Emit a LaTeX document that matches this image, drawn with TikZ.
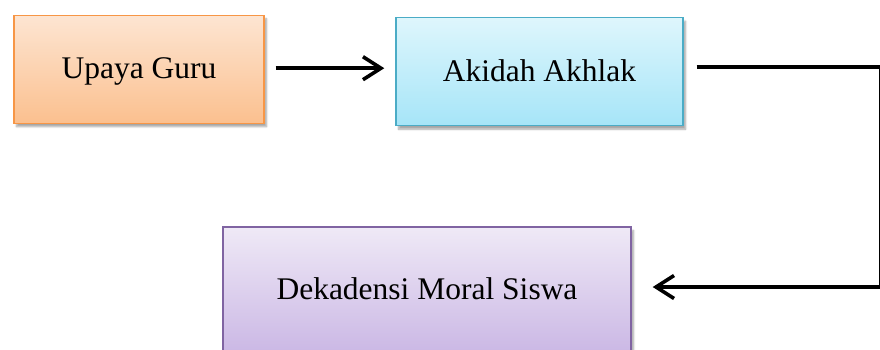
\documentclass[tikz,border=0pt]{standalone}
\usepackage{fontspec}
\setmainfont{Liberation Serif}
\usetikzlibrary{arrows.meta,shadows.blur}

\definecolor{orangeTop}{HTML}{FDE5D2}
\definecolor{orangeBot}{HTML}{FBC08F}
\definecolor{orangeLine}{HTML}{F79646}
\definecolor{cyanTop}{HTML}{DEF6FC}
\definecolor{cyanBot}{HTML}{A6E5F8}
\definecolor{cyanLine}{HTML}{4BACC6}
\definecolor{purpleTop}{HTML}{EFE9F6}
\definecolor{purpleBot}{HTML}{CBB8E5}
\definecolor{purpleLine}{HTML}{8064A2}

\tikzset{
  box/.style={rectangle, line width=1.4pt, inner sep=0pt,
    shading=axis, shading angle=0,
    font=\fontsize{31.5}{36}\selectfont,
    text height=19pt, text depth=0pt,
    blur shadow={shadow xshift=2.5pt, shadow yshift=-3.5pt,
      shadow blur steps=6, shadow opacity=35}},
  orangebox/.style={box, draw=orangeLine, top color=orangeTop, bottom color=orangeBot},
  cyanbox/.style={box, draw=cyanLine, top color=cyanTop, bottom color=cyanBot},
  purplebox/.style={box, draw=purpleLine, top color=purpleTop, bottom color=purpleBot},
  conn/.style={line width=3.6pt, black,
    -{Straight Barb[length=18pt, width=23pt, line width=3.6pt]}}
}

\begin{document}
\begin{tikzpicture}[x=1pt, y=-1pt]
  \useasboundingbox (0,0) rectangle (880,349);
  \clip (0,0) rectangle (880,349);

  % process boxes
  \node[orangebox, minimum width=250pt, minimum height=108pt] (up) at (139,69.2) {Upaya Guru};
  \node[cyanbox, minimum width=287pt, minimum height=108pt] (ak) at (539.5,71.7) {Akidah Akhlak};
  \node[purplebox, minimum width=408pt, minimum height=125pt] (dek) at (427,289.5) {Dekadensi Moral Siswa};

  % corner points of the return connector, just past the right edge
  \coordinate (c1) at (881,67);
  \coordinate (c2) at (881,287);

  % connectors
  \draw[conn, shorten <=11pt, shorten >=11pt]
    ([yshift=1pt]up.east) -- ([yshift=1pt]up.east -| ak.west);
  \draw[conn, shorten <=13pt, shorten >=21pt, line join=miter]
    (ak.east |- c1) -- (c1) -- (c2) -- (dek.east |- c2);
\end{tikzpicture}
\end{document}
